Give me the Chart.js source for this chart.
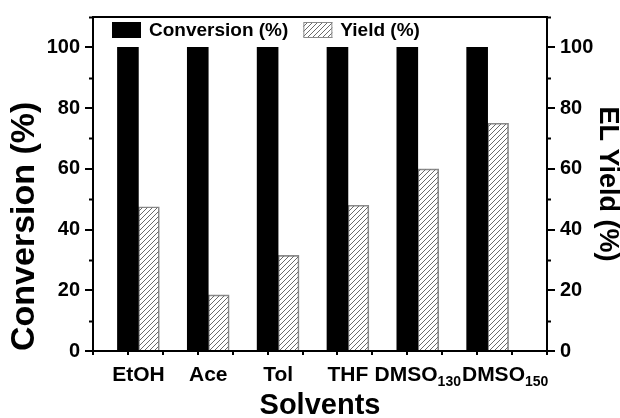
<!DOCTYPE html>
<html>
<head>
<meta charset="utf-8">
<script src="https://cdn.jsdelivr.net/npm/chart.js@4.4.1/dist/chart.umd.min.js"></script>
<style>
  html, body { margin: 0; padding: 0; background: #fff; }
</style>
</head>
<body>
<canvas id="chart" width="620" height="418"></canvas>
<script>
// values
const categories = ["EtOH", "Ace", "Tol", "THF", "DMSO", "DMSO"];
const categorySubs = ["", "", "", "", "130", "150"];
const conversion = [100, 100, 100, 100, 100, 100];
const yieldPct = [47.5, 18.5, 31.5, 48, 60, 75];
const yTicks = [0, 20, 40, 60, 80, 100];
const yMinorTicks = [10, 30, 50, 70, 90, 110];

const FONT = "'Liberation Sans', Arial, sans-serif";
const YIELD_SHIFT = 0.3; // yield bar sits right next to the conversion bar

// diagonal hatch for the yield bars
function makeHatch() {
  const c = document.createElement("canvas");
  c.width = 5;
  c.height = 5;
  const g = c.getContext("2d");
  g.strokeStyle = "#6a6a6a";
  g.lineWidth = 1;
  g.beginPath();
  g.moveTo(0, 5); g.lineTo(5, 0);
  g.moveTo(-1, 1); g.lineTo(1, -1);
  g.moveTo(4, 6); g.lineTo(6, 4);
  g.stroke();
  return g.createPattern(c, "repeat");
}
const hatch = makeHatch();

// legend, minor ticks and subscripted category labels
const decor = {
  id: "decor",
  afterDraw(chart) {
    const ctx = chart.ctx;
    const { x, y, y2 } = chart.scales;
    ctx.save();

    // minor ticks on both y axes
    ctx.strokeStyle = "#000";
    ctx.lineWidth = 2;
    yMinorTicks.forEach(v => {
      const py = Math.round(y.getPixelForValue(v)) + 0.5;
      ctx.beginPath();
      ctx.moveTo(y.right, py); ctx.lineTo(y.right - 4, py);
      ctx.moveTo(y2.left, py); ctx.lineTo(y2.left + 4, py);
      ctx.stroke();
    });

    // category labels, centred under each pair of bars
    ctx.fillStyle = "#000";
    ctx.textBaseline = "alphabetic";
    let prevRight = -Infinity;
    categories.forEach((name, i) => {
      const center = (x.getPixelForValue(i + 1) + x.getPixelForValue(i + 1 + YIELD_SHIFT)) / 2;
      ctx.font = "bold 21px " + FONT;
      const wMain = ctx.measureText(name).width;
      ctx.font = "bold 14px " + FONT;
      const wSub = ctx.measureText(categorySubs[i]).width;
      let left = center - (wMain + wSub) / 2;
      if (left < prevRight + 1) left = prevRight + 1;
      ctx.font = "bold 21px " + FONT;
      ctx.fillText(name, left, 381);
      ctx.font = "bold 14px " + FONT;
      ctx.fillText(categorySubs[i], left + wMain, 386);
      prevRight = left + wMain + wSub;
    });

    // legend
    const ds = chart.data.datasets;
    ctx.font = "bold 19px " + FONT;
    ctx.textBaseline = "middle";
    let lx = 112;
    ds.forEach(d => {
      ctx.fillStyle = d.backgroundColor;
      ctx.fillRect(lx, 22, 29, 16);
      if (d.borderWidth) {
        ctx.strokeStyle = d.borderColor;
        ctx.lineWidth = 1;
        ctx.strokeRect(lx + 0.5, 22.5, 28, 15);
      }
      ctx.fillStyle = "#000";
      ctx.fillText(d.label, lx + 37, 31);
      lx += 37 + ctx.measureText(d.label).width + 15;
    });
    ctx.restore();
  }
};

const tickFont = { family: FONT, size: 20, weight: "bold" };
const axisGrid = { drawOnChartArea: false, tickLength: 8, lineWidth: 2, color: "#000" };
const axisBorder = { color: "#000", width: 2 };

new Chart(document.getElementById("chart"), {
  type: "bar",
  data: {
    datasets: [
      {
        label: "Conversion (%)",
        data: conversion.map((v, i) => ({ x: i + 1, y: v })),
        backgroundColor: "#000",
        borderWidth: 0,
        yAxisID: "y",
        grouped: false,
        barPercentage: 1,
        categoryPercentage: 1,
      },
      {
        label: "Yield (%)",
        data: yieldPct.map((v, i) => ({ x: i + 1 + YIELD_SHIFT, y: v })),
        backgroundColor: hatch,
        borderColor: "#8a8a8a",
        borderWidth: 1,
        yAxisID: "y2",
        grouped: false,
        barPercentage: 1,
        categoryPercentage: 1,
      },
    ],
  },
  options: {
    responsive: false,
    animation: false,
    layout: { padding: { top: 15, left: 0, right: 0, bottom: 0 } },
    plugins: {
      legend: { display: false },
      tooltip: { enabled: false },
    },
    scales: {
      x: {
        type: "linear",
        min: 0.5,
        max: 7,
        offset: false,
        z: 1,
        ticks: { stepSize: 0.5, autoSkip: false, callback: () => "" },
        grid: { drawOnChartArea: false, offset: false, tickLength: 4, lineWidth: 2, color: "#000" },
        border: axisBorder,
        title: {
          display: true,
          text: "Solvents",
          color: "#000",
          font: { family: FONT, size: 29, weight: "bold", lineHeight: 0.8 },
          padding: 0,
        },
        afterFit: s => { s.height = 67; },
      },
      xTop: {
        type: "linear",
        position: "top",
        min: 0.5,
        max: 7,
        offset: false,
        ticks: { display: false },
        grid: { display: false },
        border: axisBorder,
        afterFit: s => { s.height = 0; },
      },
      y: {
        position: "left",
        min: 0,
        max: 110,
        afterBuildTicks: s => { s.ticks = yTicks.map(v => ({ value: v })); },
        ticks: { font: tickFont, color: "#000", padding: 5 },
        grid: axisGrid,
        border: axisBorder,
        title: {
          display: true,
          text: "Conversion (%)",
          align: "start",
          color: "#000",
          font: { family: FONT, size: 34, weight: "bold", lineHeight: 1 },
          padding: { top: 8, bottom: 0 },
        },
        afterFit: s => { s.width = 93; },
      },
      y2: {
        position: "right",
        min: 0,
        max: 110,
        afterBuildTicks: s => { s.ticks = yTicks.map(v => ({ value: v })); },
        ticks: { font: tickFont, color: "#000", padding: 5 },
        grid: axisGrid,
        border: axisBorder,
        title: {
          display: true,
          text: "EL Yield (%)",
          color: "#000",
          font: { family: FONT, size: 27, weight: "bold", lineHeight: 0.9 },
          padding: 0,
        },
        afterFit: s => { s.width = 73; },
      },
    },
  },
  plugins: [decor],
});
</script>
</body>
</html>
